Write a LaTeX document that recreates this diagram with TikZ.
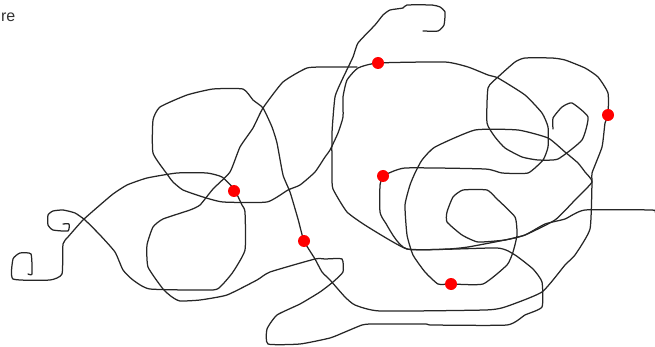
\documentclass[tikz,border=0pt]{standalone}
\usepackage{fontspec}
\setmainfont{Liberation Sans}
\tikzset{
  curveline/.style={draw=black!85,line width=1.25pt,line join=round,line cap=round},
  reddot/.style={circle,fill=red,draw=none,minimum size=12pt,inner sep=0pt}
}
\begin{document}
\begin{tikzpicture}[x=1pt,y=-1pt]
\useasboundingbox (0,0) rectangle (655,347);
% left spirals
\draw[curveline] plot[smooth,tension=0.3] coordinates {(28,274)(32,274)(31,254)(20,253)(13,259)(13,279)(50,280)(62,274)(63,244)(68,237)(83,220)(100,205)(113,194)(127,185)(147,178)(177,173)(207,173)(222,177)(234,189)(242,205)(245,212)(245,250)(233,272)(222,285)(213,290)(150,289)(133,280)(123,270)(115,252)(100,235)(85,220)(75,213)(63,210)(53,211)(48,215)(48,225)(53,230)(68,231)(69,224)(63,224)};
% top hook to right end
\draw[curveline] plot[smooth,tension=0.3] coordinates {(423,31)(438,31)(444,25)(445,12)(440,7)(432,5)(407,5)(403,8)(390,10)(383,15)(375,25)(358,43)(353,57)(342,80)(335,97)(332,133)(332,175)(333,189)(347,212)(368,227)(407,249)(448,249)(468,247)(505,240)(525,235)(545,224)(565,219)(585,210)(652,210)(655,212)};
% lower loop
\draw[curveline] plot[smooth,tension=0.3] coordinates {(383,176)(380,185)(380,212)(385,222)(407,249)(497,248)(515,255)(533,269)(542,282)(542,307)(525,315)(507,325)(432,325)(425,324)(372,324)(362,325)(345,332)(330,338)(300,344)(268,344)(267,329)(277,315)(300,304)(320,292)(333,282)(343,272)(342,259)(325,259)(315,259)(270,272)(257,280)(227,295)(200,300)(180,301)(172,297)(163,289)(148,267)(147,245)(153,227)(163,219)(190,210)(200,205)(213,189)(230,172)(240,147)(253,128)(263,108)(283,82)(307,68)(330,67)(357,67)};
% long arc through the top dot
\draw[curveline] plot[smooth,tension=0.3] coordinates {(383,176)(405,168)(485,169)(502,173)(528,173)(543,160)(548,147)(548,127)(542,113)(525,95)(498,78)(488,75)(468,67)(445,62)(378,63)(358,68)(347,80)(343,97)(343,117)(338,133)(330,150)(325,157)(315,172)(300,185)(288,190)(267,202)(223,202)(203,197)(183,190)(173,182)(167,174)(153,153)(153,120)(160,107)(187,95)(213,89)(243,89)(253,100)(263,108)(272,127)(277,143)(283,175)(290,192)(298,219)(304,241)(315,259)(322,272)(330,280)(345,297)(355,305)(380,311)(485,310)(505,307)(542,292)(565,265)(575,255)(590,229)(592,182)(592,173)(602,147)(605,123)(608,115)(608,93)(598,77)(585,68)(565,60)(552,58)(525,58)(515,62)(498,77)(488,88)(487,123)(495,137)(505,148)(522,157)(538,160)(558,159)(582,140)(588,117)(572,103)(562,107)(553,118)(553,129)};
% inner spiral through the bottom dot
\draw[curveline] plot[smooth cycle,tension=0.3] coordinates {(451,284)(483,284)(507,265)(513,252)(517,235)(515,217)(497,199)(487,190)(463,190)(453,197)(447,212)(447,222)(462,235)(478,242)(505,240)(525,235)(555,220)(575,200)(592,182)(585,172)(578,163)(565,152)(548,138)(518,130)(475,130)(435,147)(422,160)(415,173)(410,185)(405,205)(407,235)(413,255)(425,272)(438,284)};
\node[reddot] (d1) at (234,191) {};
\node[reddot] (d2) at (304,241) {};
\node[reddot] (d3) at (378,63) {};
\node[reddot] (d4) at (383,176) {};
\node[reddot] (d5) at (451,284) {};
\node[reddot] (d6) at (608,115) {};
\node[anchor=base east,inner sep=0pt,font=\fontsize{16}{16}\selectfont,text=black!80] (lbl) at (15.5,21.5) {re};
\end{tikzpicture}
\end{document}
